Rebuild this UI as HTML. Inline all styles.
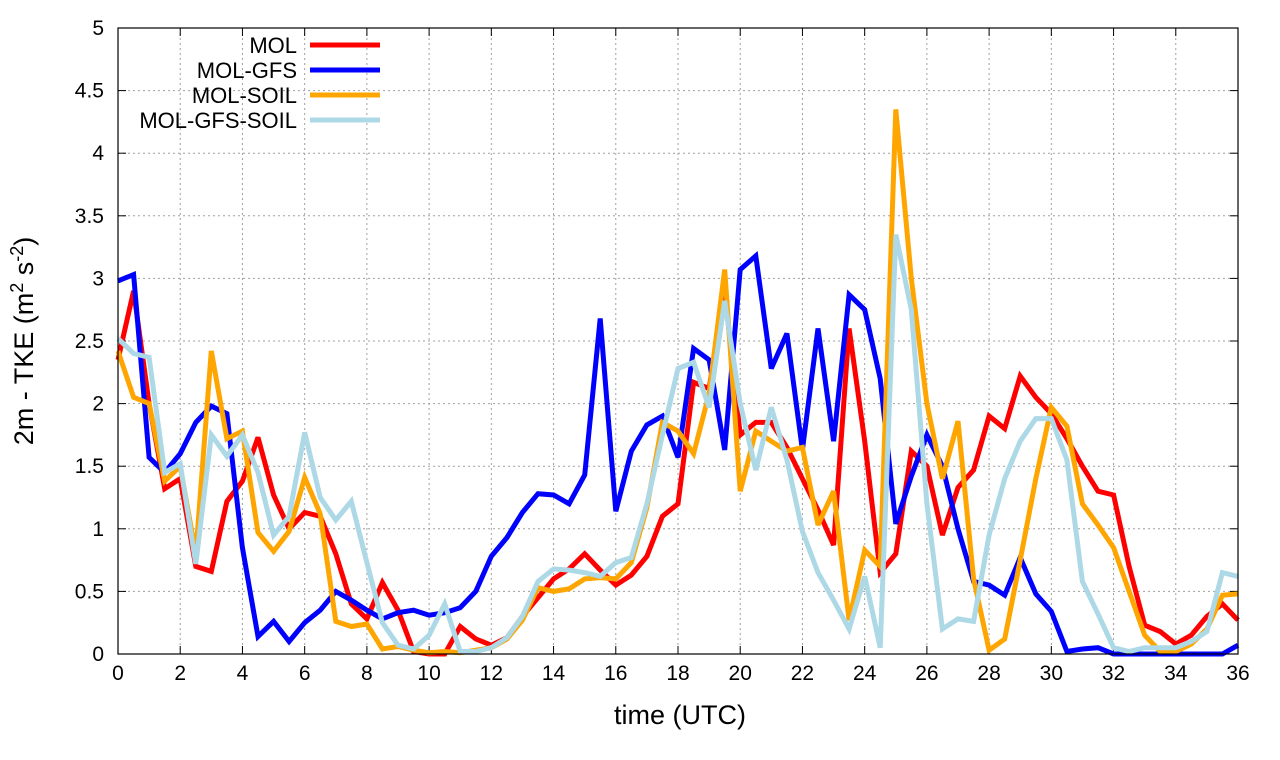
<!DOCTYPE html>
<html><head><meta charset="utf-8"><style>
html,body{margin:0;padding:0;background:#fff;}
svg{display:block;font-family:"Liberation Sans",sans-serif;}
</style></head><body>
<svg id="chart" width="1280" height="760" xmlns="http://www.w3.org/2000/svg"></svg>
<script>
const xTicks=[0,2,4,6,8,10,12,14,16,18,20,22,24,26,28,30,32,34,36];
const yTicks=[0,0.5,1,1.5,2,2.5,3,3.5,4,4.5,5];
const yTickLabels=["0","0.5","1","1.5","2","2.5","3","3.5","4","4.5","5"];
const seriesNames=["MOL","MOL-GFS","MOL-SOIL","MOL-GFS-SOIL"];
const seriesColors=["#ff0000","#0000ff","#ffa500","#add8e6"];
const mol=[2.35,2.9,2.0,1.32,1.4,0.7,0.66,1.22,1.38,1.73,1.27,1.0,1.13,1.1,0.8,0.4,0.28,0.57,0.35,0.02,0,0,0.22,0.12,0.07,0.13,0.3,0.45,0.6,0.68,0.8,0.67,0.55,0.63,0.78,1.1,1.2,2.17,2.12,2.9,1.75,1.85,1.85,1.65,1.4,1.15,0.87,2.6,1.7,0.65,0.8,1.62,1.5,0.95,1.33,1.47,1.9,1.8,2.22,2.05,1.92,1.72,1.5,1.3,1.27,0.7,0.23,0.18,0.08,0.15,0.3,0.4,0.27];
const molGfs=[2.98,3.03,1.57,1.45,1.6,1.85,1.98,1.92,0.85,0.14,0.26,0.1,0.25,0.35,0.5,0.43,0.35,0.28,0.33,0.35,0.31,0.33,0.37,0.5,0.78,0.93,1.13,1.28,1.27,1.2,1.43,2.68,1.14,1.62,1.83,1.9,1.57,2.44,2.35,1.63,3.07,3.18,2.28,2.56,1.63,2.6,1.7,2.87,2.75,2.2,1.04,1.42,1.75,1.5,1.0,0.58,0.55,0.47,0.77,0.48,0.34,0.02,0.04,0.05,0,0,0,0,0,0,0,0,0.07];
const molSoil=[2.42,2.05,2.0,1.38,1.5,0.8,2.42,1.72,1.78,0.97,0.82,0.98,1.41,1.12,0.26,0.22,0.24,0.04,0.06,0.03,0.01,0.02,0.01,0.03,0.05,0.12,0.27,0.53,0.5,0.52,0.6,0.61,0.6,0.73,1.17,1.85,1.78,1.6,2.08,3.07,1.3,1.78,1.7,1.62,1.65,1.03,1.3,0.27,0.83,0.7,4.35,3.0,2.0,1.4,1.86,0.6,0.03,0.12,0.75,1.4,1.97,1.82,1.2,1.03,0.85,0.5,0.15,0.02,0.02,0.08,0.2,0.47,0.48];
const molGfsSoil=[2.52,2.4,2.37,1.45,1.52,0.72,1.75,1.58,1.75,1.45,0.95,1.1,1.77,1.25,1.07,1.22,0.73,0.25,0.07,0.04,0.15,0.4,0.02,0.02,0.05,0.13,0.3,0.58,0.68,0.67,0.65,0.62,0.73,0.77,1.2,1.75,2.28,2.33,1.97,2.82,2.0,1.47,1.97,1.55,0.98,0.65,0.43,0.2,0.62,0.05,3.35,2.75,1.2,0.2,0.28,0.26,0.95,1.4,1.7,1.88,1.88,1.55,0.58,0.32,0.05,0.02,0.05,0.05,0.05,0.1,0.18,0.65,0.62];
const allSeries=[mol,molGfs,molSoil,molGfsSoil];
const seriesKeys=["mol","mol-gfs","mol-soil","mol-gfs-soil"];

const L=118,R=1238,T=28,B=654;
const xs=v=>L+(v/36)*(R-L);
const ys=v=>B-(v/5)*(B-T);
const NS="http://www.w3.org/2000/svg";
const svg=document.getElementById('chart');
function mk(tag,attrs,parent){const e=document.createElementNS(NS,tag);for(const k in attrs)e.setAttribute(k,attrs[k]);(parent||svg).appendChild(e);return e;}

const grid=mk('g',{});


xTicks.forEach(t=>{ if(t>0&&t<36) mk('line',{x1:xs(t),x2:xs(t),y1:T,y2:B,stroke:'#a0a0a0','stroke-width':1,'stroke-dasharray':'2,3'},grid);});
yTicks.forEach(t=>{ if(t>0&&t<5) mk('line',{x1:L,x2:R,y1:ys(t),y2:ys(t),stroke:'#a0a0a0','stroke-width':1,'stroke-dasharray':'2,3'},grid);});

const xa=mk('g',{});


xTicks.forEach(t=>{
  mk('line',{x1:xs(t),x2:xs(t),y1:B,y2:B-8,stroke:'#000'},xa);
  mk('line',{x1:xs(t),x2:xs(t),y1:T,y2:T+8,stroke:'#000'},xa);
  const tx=mk('text',{x:xs(t),y:B+26,'text-anchor':'middle','font-size':21},xa);tx.textContent=t;
});
const ya=mk('g',{});


yTicks.forEach((t,i)=>{
  mk('line',{x1:L,x2:L+8,y1:ys(t),y2:ys(t),stroke:'#000'},ya);
  mk('line',{x1:R,x2:R-8,y1:ys(t),y2:ys(t),stroke:'#000'},ya);
  const tx=mk('text',{x:L-14,y:ys(t)+7,'text-anchor':'end','font-size':21},ya);tx.textContent=yTickLabels[i];
});

allSeries.forEach((d,si)=>{
  const pts=d.map((v,i)=>xs(i*0.5).toFixed(1)+','+ys(v).toFixed(1)).join(' ');
  const p=mk('polyline',{points:pts,fill:'none',stroke:seriesColors[si],'stroke-width':5,'stroke-linejoin':'miter','stroke-miterlimit':3});
  
  
});

mk('rect',{x:L,y:T,width:R-L,height:B-T,fill:'none',stroke:'#000','stroke-width':1.2});

const lg=mk('g',{});


seriesNames.forEach((n,i)=>{
  const y=45+i*25;
  const e=mk('g',{},lg);
  
  
  const tx=mk('text',{x:297,y:y+8,'text-anchor':'end','font-size':22},e);tx.textContent=n;
  mk('line',{x1:310,x2:380,y1:y,y2:y,stroke:seriesColors[i],'stroke-width':5},e);
});

const xt=mk('text',{x:(L+R)/2+2,y:724,'text-anchor':'middle','font-size':27});


xt.textContent='time (UTC)';
const yt=mk('text',{x:0,y:0,'text-anchor':'middle','font-size':27,transform:'translate(33,341) rotate(-90)'});


yt.innerHTML='2m - TKE (m<tspan dy="-10" font-size="18">2</tspan><tspan dy="10"> s</tspan><tspan dy="-10" font-size="18">-2</tspan><tspan dy="10">)</tspan>';
</script>
</body></html>
